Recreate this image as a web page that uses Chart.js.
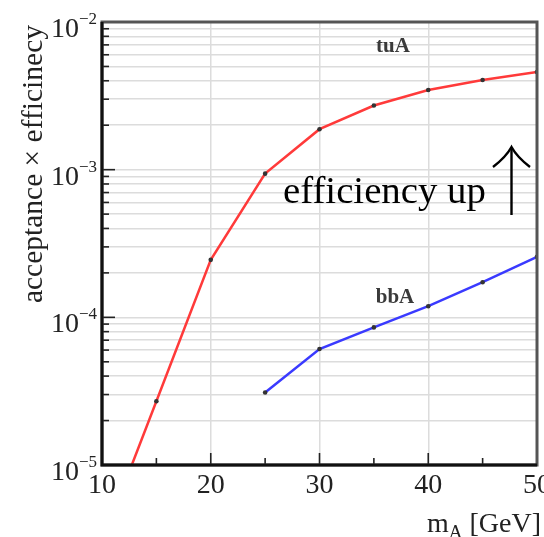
<!DOCTYPE html>
<html>
<head>
<meta charset="utf-8">
<title>acceptance x efficiency vs m_A</title>
<script src="https://cdn.jsdelivr.net/npm/chart.js@4.4.1/dist/chart.umd.min.js"></script>
<style>
  html, body { margin: 0; padding: 0; background: #fff; }
  canvas { display: block; }
</style>
</head>
<body>
<canvas id="acc-chart" width="544" height="537"></canvas>
<script>
// mass points (GeV) and acceptance x efficiency per channel
const tauMasses = [10, 15, 20, 25, 30, 35, 40, 45, 50];
const tauAccEff = [3.0e-6, 2.7e-5, 2.45e-4, 9.4e-4, 1.88e-3, 2.72e-3, 3.46e-3, 4.05e-3, 4.58e-3];
const bbMasses = [25, 30, 35, 40, 45, 50];
const bbAccEff = [3.1e-5, 6.1e-5, 8.55e-5, 1.19e-4, 1.73e-4, 2.57e-4];

const xTickValues = [10, 15, 20, 25, 30, 35, 40, 45, 50];
const yDecades = [1e-5, 1e-4, 1e-3, 1e-2];

// 1..9 x each decade, for the log grid
const yTickValues = [];
for (let d = 0; d < yDecades.length - 1; d++) {
    for (let k = 1; k < 10; k++) {
        yTickValues.push(k * yDecades[d]);
    }
}
yTickValues.push(yDecades[yDecades.length - 1]);

const SERIF = "'Liberation Serif', 'DejaVu Serif', serif";
const INK = '#222';

function isDecade(v) {
    const e = Math.log10(v);
    return Math.abs(e - Math.round(e)) < 1e-6;
}

// frame, inward ticks, labels and annotations
const decorations = {
    id: 'decorations',
    afterDatasetsDraw(chart) {
        const ctx = chart.ctx;
        const a = chart.chartArea;
        const xs = chart.scales.x;
        const ys = chart.scales.y;

        ctx.save();
        ctx.strokeStyle = INK;
        ctx.lineWidth = 1.6;

        // x ticks pointing up
        xTickValues.forEach(v => {
            const px = xs.getPixelForValue(v);
            const len = v % 10 === 0 ? 12 : 7;
            ctx.beginPath();
            ctx.moveTo(px, a.bottom);
            ctx.lineTo(px, a.bottom - len);
            ctx.stroke();
        });

        // y ticks pointing right
        yTickValues.forEach(v => {
            const py = ys.getPixelForValue(v);
            const len = isDecade(v) ? 13 : 7;
            ctx.beginPath();
            ctx.moveTo(a.left, py);
            ctx.lineTo(a.left + len, py);
            ctx.stroke();
        });

        // box
        ctx.lineWidth = 3;
        ctx.strokeStyle = '#555';
        ctx.strokeRect(a.left, a.top, a.right - a.left, a.bottom - a.top);
        ctx.strokeStyle = '#111';
        ctx.beginPath();
        ctx.moveTo(a.left, a.top);
        ctx.lineTo(a.left, a.bottom);
        ctx.lineTo(a.right, a.bottom);
        ctx.stroke();

        // y tick labels 10^n
        ctx.fillStyle = INK;
        ctx.textBaseline = 'alphabetic';
        ctx.textAlign = 'left';
        yDecades.forEach(v => {
            const py = ys.getPixelForValue(v);
            const sup = '\u2212' + Math.abs(Math.round(Math.log10(v)));
            ctx.font = '17px ' + SERIF;
            const supW = ctx.measureText(sup).width;
            ctx.font = '28px ' + SERIF;
            const baseW = ctx.measureText('10').width;
            const right = a.left - 5;
            ctx.fillText('10', right - supW - baseW, py + 15);
            ctx.font = '17px ' + SERIF;
            ctx.fillText(sup, right - supW, py + 2);
        });

        // y axis title, right-aligned to the top of the axis
        ctx.save();
        ctx.translate(42, 25);
        ctx.rotate(-Math.PI / 2);
        ctx.font = '29.5px ' + SERIF;
        ctx.textAlign = 'right';
        ctx.fillText('acceptance \u00d7 efficinecy', 0, 0);
        ctx.restore();

        // x axis title m_A [GeV]
        ctx.font = '28px ' + SERIF;
        const rest = ' [GeV]';
        const restW = ctx.measureText(rest).width;
        const xEnd = 541;
        ctx.fillText(rest, xEnd - restW, 532);
        ctx.font = '19px ' + SERIF;
        const subW = ctx.measureText('A').width;
        ctx.fillText('A', xEnd - restW - subW, 538);
        ctx.font = '28px ' + SERIF;
        const mW = ctx.measureText('m').width;
        ctx.fillText('m', xEnd - restW - subW - mW, 532);

        // channel labels
        ctx.textAlign = 'center';
        ctx.font = 'bold 21px ' + SERIF;
        ctx.fillStyle = '#3a3a3a';
        ctx.fillText('tuA', 393, 52);
        ctx.fillText('bbA', 395, 303);

        // annotation
        ctx.fillStyle = '#000';
        ctx.textAlign = 'left';
        ctx.font = '38.8px ' + SERIF;
        ctx.fillText('efficiency up', 283, 203);

        // arrow
        ctx.strokeStyle = '#000';
        ctx.lineWidth = 2.4;
        ctx.beginPath();
        ctx.moveTo(511.5, 215);
        ctx.lineTo(511.5, 148);
        ctx.stroke();
        ctx.beginPath();
        ctx.moveTo(493, 167);
        ctx.quadraticCurveTo(506, 157, 511.5, 147);
        ctx.quadraticCurveTo(517, 157, 530, 167);
        ctx.stroke();

        ctx.restore();
    }
};

new Chart(document.getElementById('acc-chart'), {
    type: 'line',
    data: {
        datasets: [{
            label: 'tuA',
            data: tauMasses.map((m, i) => ({ x: m, y: tauAccEff[i] })),
            borderColor: '#ff3a3a',
            borderWidth: 2.5,
            pointRadius: 2.3,
            pointBackgroundColor: '#333',
            pointBorderWidth: 0,
            tension: 0
        }, {
            label: 'bbA',
            data: bbMasses.map((m, i) => ({ x: m, y: bbAccEff[i] })),
            borderColor: '#3a3aff',
            borderWidth: 2.5,
            pointRadius: 2.3,
            pointBackgroundColor: '#333',
            pointBorderWidth: 0,
            tension: 0
        }]
    },
    options: {
        responsive: false,
        animation: false,
        devicePixelRatio: 1,
        layout: { padding: { left: 0, top: 22, right: 7, bottom: 0 } },
        plugins: {
            legend: { display: false },
            tooltip: { enabled: false }
        },
        scales: {
            x: {
                type: 'linear',
                min: 10,
                max: 50,
                afterBuildTicks: scale => {
                    scale.ticks = xTickValues.map(v => ({ value: v }));
                },
                afterFit: scale => {
                    scale.height = 72;
                    scale.paddingLeft = 0;
                    scale.paddingRight = 0;
                },
                ticks: {
                    autoSkip: false,
                    maxRotation: 0,
                    padding: 4,
                    color: INK,
                    font: { family: SERIF, size: 28 },
                    callback: v => (v % 10 === 0 ? String(v) : '')
                },
                grid: {
                    drawTicks: false,
                    lineWidth: 1.5,
                    color: ctx => (ctx.tick && ctx.tick.value % 10 === 0 ? '#dcdcdc' : 'rgba(0,0,0,0)')
                },
                border: { display: false }
            },
            y: {
                type: 'logarithmic',
                min: 1e-5,
                max: 1e-2,
                afterBuildTicks: scale => {
                    scale.ticks = yTickValues.map(v => ({ value: v }));
                },
                afterFit: scale => {
                    scale.width = 102;
                    scale.paddingTop = 0;
                    scale.paddingBottom = 0;
                },
                ticks: { display: false, autoSkip: false },
                grid: {
                    drawTicks: false,
                    lineWidth: 1.5,
                    color: '#dcdcdc'
                },
                border: { display: false }
            }
        }
    },
    plugins: [decorations]
});
</script>
</body>
</html>
